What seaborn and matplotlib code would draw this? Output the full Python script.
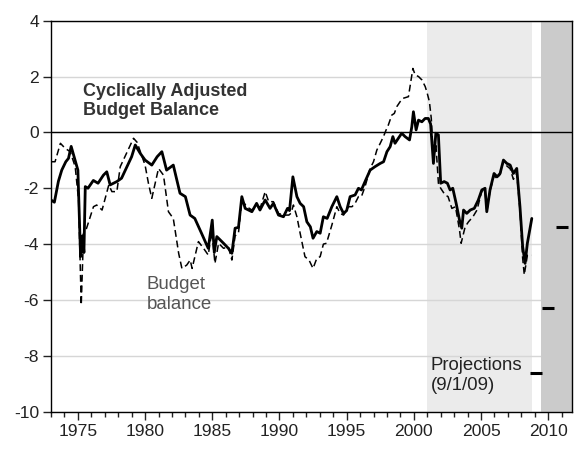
import numpy as np
import pandas as pd
import matplotlib
matplotlib.use("Agg")
import matplotlib.pyplot as plt
from matplotlib.ticker import MultipleLocator
import seaborn as sns

# ---- data ----
cab_years = [1973.00, 1973.25, 1973.55, 1973.80, 1974.10, 1974.30, 1974.50, 1974.75, 1975.00, 1975.20,
             1975.35, 1975.45, 1975.55, 1975.75, 1976.15, 1976.50, 1976.90, 1977.15, 1977.40, 1977.90,
             1978.25, 1978.65, 1979.00, 1979.27, 1979.64, 1980.00, 1980.50, 1980.90, 1981.25, 1981.60,
             1982.10, 1982.60, 1983.00, 1983.35, 1983.70, 1984.20, 1984.70, 1985.00, 1985.15, 1985.34,
             1985.84, 1986.20, 1986.46, 1986.70, 1986.95, 1987.20, 1987.45, 1987.95, 1988.30, 1988.55,
             1988.94, 1989.30, 1989.55, 1989.93, 1990.30, 1990.60, 1990.75, 1991.00, 1991.30, 1991.54,
             1991.80, 1992.04, 1992.30, 1992.50, 1992.78, 1993.03, 1993.27, 1993.55, 1993.90, 1994.27,
             1994.52, 1994.77, 1995.00, 1995.26, 1995.63, 1995.88, 1996.10, 1996.37, 1996.75, 1997.10,
             1997.50, 1997.75, 1998.00, 1998.24, 1998.44, 1998.60, 1998.85, 1999.10, 1999.35, 1999.68,
             1999.85, 1999.97, 2000.17, 2000.35, 2000.60, 2000.84, 2001.08, 2001.25, 2001.46, 2001.64,
             2001.83, 2002.00, 2002.26, 2002.50, 2002.70, 2002.90, 2003.15, 2003.40, 2003.57, 2003.70,
             2003.94, 2004.20, 2004.50, 2004.80, 2005.06, 2005.30, 2005.43, 2005.67, 2005.97, 2006.20,
             2006.42, 2006.67, 2006.92, 2007.17, 2007.41, 2007.66, 2007.90, 2008.10, 2008.28, 2008.45,
             2008.78]
cab_values = [-2.42, -2.50, -1.75, -1.35, -1.05, -0.93, -0.50, -0.93, -1.35, -4.45,
              -3.70, -4.30, -1.94, -2.00, -1.72, -1.82, -1.53, -1.41, -1.88, -1.76,
              -1.64, -1.23, -0.87, -0.45, -0.75, -0.99, -1.17, -0.87, -0.69, -1.35,
              -1.17, -2.18, -2.30, -2.96, -3.08, -3.61, -4.15, -3.14, -4.30, -3.73,
              -3.97, -4.15, -4.33, -3.43, -3.40, -2.30, -2.72, -2.84, -2.54, -2.78,
              -2.42, -2.72, -2.54, -2.96, -3.02, -2.72, -2.80, -1.59, -2.30, -2.54,
              -2.66, -3.20, -3.38, -3.79, -3.55, -3.61, -3.02, -3.08, -2.66, -2.30,
              -2.66, -2.90, -2.80, -2.30, -2.24, -2.00, -2.06, -1.76, -1.35, -1.23,
              -1.11, -1.05, -0.69, -0.51, -0.15, -0.39, -0.21, -0.03, -0.15, -0.27,
              0.20, 0.74, 0.09, 0.44, 0.38, 0.50, 0.50, 0.30, -1.11, -0.03,
              -0.09, -1.82, -1.76, -1.82, -2.06, -2.00, -2.54, -3.14, -3.43, -2.78,
              -2.90, -2.78, -2.72, -2.42, -2.06, -2.00, -2.84, -2.06, -1.47, -1.59,
              -1.47, -0.99, -1.11, -1.17, -1.47, -1.29, -2.66, -4.09, -4.69, -3.97,
              -3.08]

bb_years = [1973.00, 1973.30, 1973.70, 1974.05, 1974.43, 1974.80, 1975.05, 1975.25, 1975.42, 1975.60,
            1976.16, 1976.40, 1976.80, 1977.30, 1977.53, 1977.90, 1978.15, 1978.50, 1979.14, 1979.40,
            1980.00, 1980.25, 1980.50, 1981.00, 1981.37, 1981.74, 1982.10, 1982.50, 1982.74, 1983.10,
            1983.36, 1983.50, 1983.97, 1984.35, 1984.70, 1984.97, 1985.20, 1985.47, 1985.84, 1986.20,
            1986.46, 1986.70, 1986.95, 1987.20, 1987.57, 1987.95, 1988.30, 1988.60, 1988.94, 1989.20,
            1989.55, 1989.93, 1990.30, 1990.70, 1990.85, 1991.04, 1991.30, 1991.54, 1991.90, 1992.20,
            1992.50, 1992.78, 1993.03, 1993.27, 1993.50, 1993.90, 1994.27, 1994.52, 1994.77, 1995.14,
            1995.40, 1995.63, 1995.88, 1996.10, 1996.37, 1996.75, 1997.00, 1997.25, 1997.50, 1997.74,
            1997.94, 1998.10, 1998.36, 1998.55, 1998.73, 1998.98, 1999.20, 1999.60, 1999.70, 1999.93,
            2000.10, 2000.35, 2000.60, 2000.85, 2001.00, 2001.16, 2001.30, 2001.46, 2001.64, 2001.83,
            2002.00, 2002.33, 2002.55, 2002.83, 2003.10, 2003.40, 2003.52, 2003.82, 2004.07, 2004.40,
            2004.70, 2005.06, 2005.30, 2005.43, 2005.67, 2005.97, 2006.20, 2006.42, 2006.67, 2006.92,
            2007.17, 2007.41, 2007.66, 2007.90, 2008.10, 2008.22, 2008.45, 2008.78]
bb_values = [-1.05, -1.05, -0.39, -0.57, -0.69, -1.23, -2.42, -6.18, -3.61, -3.50,
             -2.66, -2.60, -2.78, -1.88, -2.12, -2.12, -1.23, -0.87, -0.21, -0.35,
             -1.17, -1.82, -2.36, -1.29, -1.53, -2.84, -3.08, -4.33, -4.87, -4.75,
             -4.57, -4.87, -3.91, -4.15, -4.39, -3.55, -4.69, -3.97, -4.15, -4.10,
             -4.57, -3.70, -3.61, -2.42, -2.66, -2.78, -2.66, -2.66, -2.12, -2.48,
             -2.48, -2.90, -2.96, -2.96, -2.90, -2.60, -3.02, -3.61, -4.45, -4.57,
             -4.87, -4.51, -4.45, -4.00, -3.97, -3.32, -2.66, -2.90, -2.96, -2.66,
             -2.66, -2.54, -2.30, -2.30, -1.94, -1.29, -1.05, -0.63, -0.39, -0.15,
             0.09, 0.26, 0.62, 0.68, 0.92, 1.10, 1.22, 1.28, 1.58, 2.29,
             2.06, 2.00, 1.88, 1.64, 1.40, 1.10, 0.50, -1.00, -0.40, -1.82,
             -2.00, -2.24, -2.30, -2.72, -2.66, -3.49, -3.97, -3.38, -3.20, -3.02,
             -2.78, -2.10, -2.05, -2.84, -2.10, -1.55, -1.65, -1.50, -1.02, -1.20,
             -1.30, -1.68, -1.45, -2.80, -4.50, -5.10, -4.40, -4.40]

proj_years = [2009.1, 2010.0, 2011.0]
proj_values = [-8.6, -6.3, -3.4]

y_ticks = [4, 2, 0, -2, -4, -6, -8, -10]
x_ticks = [1975, 1980, 1985, 1990, 1995, 2000, 2005, 2010]

# ---- style ----
sns.set_style("ticks")
plt.rcParams['font.family'] = ['Liberation Sans', 'DejaVu Sans']

cab = pd.DataFrame({"year": cab_years, "value": cab_values})
bb = pd.DataFrame({"year": bb_years, "value": bb_values})
proj = pd.DataFrame({"year": proj_years, "value": proj_values})

fig = plt.figure(figsize=(5.81, 4.55), dpi=100)
ax = fig.add_axes([0.0878, 0.0952, 0.8962, 0.8593])

ax.set_xlim(1973.0, 2011.75)
ax.set_ylim(-10, 4)

# shaded regions
ax.axvspan(2001.0, 2008.78, color="#ebebeb", zorder=0, lw=0)
ax.set_axisbelow(True)
ax.yaxis.grid(True, color="#d6d6d6", lw=1.0)
ax.axvspan(2009.47, 2011.75, color="#cbcbcb", zorder=1, lw=0)
ax.axhline(0, color="black", lw=1.0, zorder=1.5)

sns.lineplot(data=bb, x="year", y="value", ax=ax, color="black", lw=1.1,
             linestyle=(0, (4.5, 2.5)), zorder=3, sort=False)
sns.lineplot(data=cab, x="year", y="value", ax=ax, color="black", lw=2.0,
             zorder=4, sort=False)
sns.lineplot(data=proj, x="year", y="value", ax=ax, color="black", lw=0,
             marker="_", markersize=8.5, markeredgewidth=2.2,
             markeredgecolor="black", markerfacecolor="black", zorder=4)

ax.set_xlabel("")
ax.set_ylabel("")
ax.set_yticks(y_ticks)
ax.set_yticklabels([str(t) for t in y_ticks])
ax.set_xticks(x_ticks)
ax.set_xticklabels([str(t) for t in x_ticks])
ax.xaxis.set_minor_locator(MultipleLocator(1))
ax.tick_params(axis="x", which="major", length=6, width=1, pad=3, labelsize=12.6, colors="#222222")
ax.tick_params(axis="x", which="minor", length=3.5, width=1, colors="#222222")
ax.tick_params(axis="y", which="major", length=5.8, width=1, pad=2.7, labelsize=12.6, colors="#222222")
for s in ax.spines.values():
    s.set_color("black")
    s.set_linewidth(1.0)
    s.set_visible(True)
    s.set_zorder(5)

ax.text(1975.39, 1.78, "Cyclically Adjusted\nBudget Balance", fontsize=13, fontweight="bold",
        color="#333333", va="top", ha="left", zorder=6)
ax.text(1980.13, -5.15, "Budget\nbalance", fontsize=13.4, color="#555555",
        va="top", ha="left", zorder=6)
ax.text(2001.27, -8.05, "Projections\n(9/1/09)", fontsize=13.4, color="#222222",
        va="top", ha="left", zorder=6)

fig.savefig("out.png", dpi=100)
